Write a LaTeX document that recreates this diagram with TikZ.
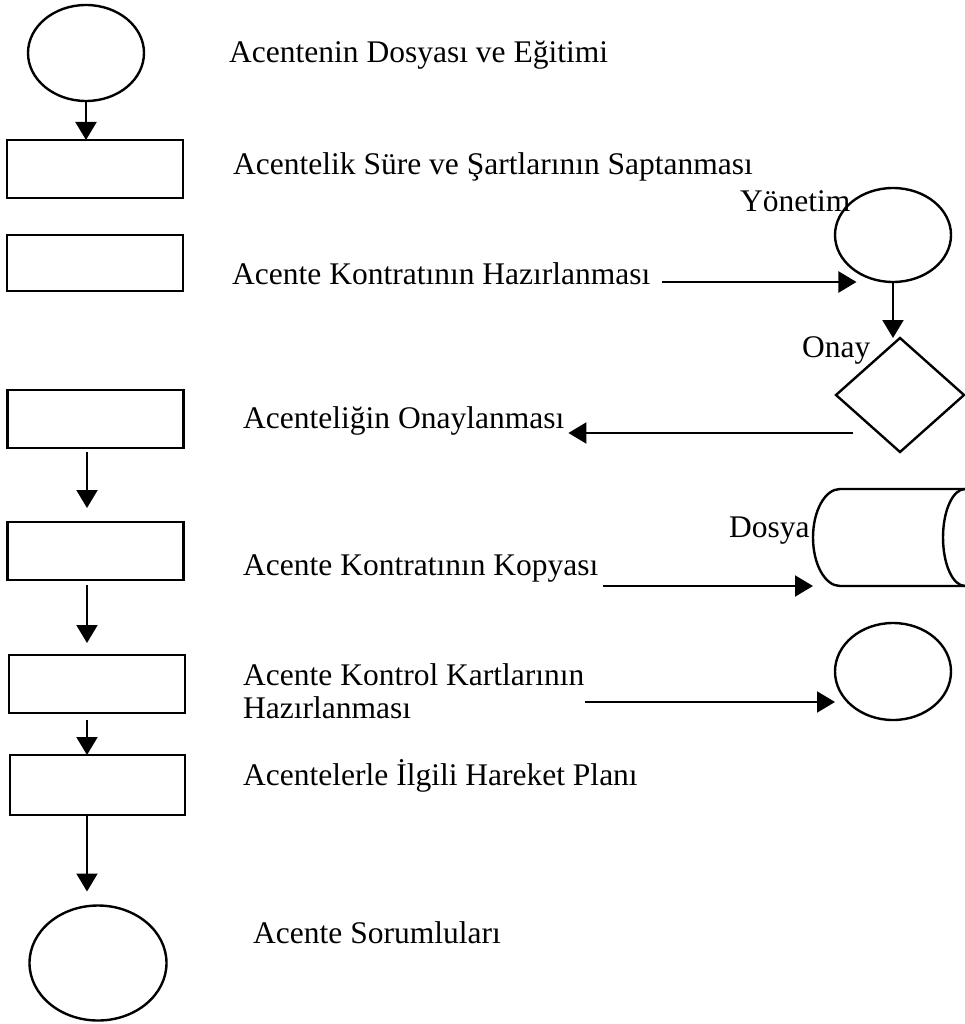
\documentclass[tikz,border=0pt]{standalone}
\usepackage{fontspec}
\setmainfont{Liberation Serif}
\usetikzlibrary{arrows.meta,shapes.geometric,calc}
\begin{document}
\begin{tikzpicture}[x=1pt,y=-1pt,
  shp/.style={draw, line width=2.4pt, inner sep=0pt, outer sep=0pt},
  box/.style={shp, rectangle, minimum width=176pt, minimum height=58pt},
  oval/.style={shp, ellipse},
  lbl/.style={anchor=base west, inner sep=0pt, font=\fontsize{31.5}{36}\selectfont},
  arr/.style={line width=2.2pt, -{Triangle[length=18pt,width=21pt]}}]

% page
\fill[white] (0,0) rectangle (965,1024);
\useasboundingbox (0,0) rectangle (965,1024);

% left column of steps
\node[oval, minimum width=116pt, minimum height=96pt] (e1) at (86,53) {};
\node[box] (b1) at (95,169) {};
\node[box, minimum height=56pt] (b2) at (95,263) {};
\node[box] (b3) at (95.5,419) {};
\node[box] (b4) at (95.5,551) {};
\node[box] (b5) at (97,684) {};
\node[box, minimum width=175pt, minimum height=60pt] (b6) at (97.5,785) {};
\node[oval, minimum width=137pt, minimum height=115pt] (e2) at (98,963) {};

% right-hand symbols
\node[oval, minimum width=116pt, minimum height=94pt] (yon) at (893,235) {};
\node[shp, diamond, minimum width=128pt, minimum height=114pt] (dia) at (900,395) {};
\node[inner sep=0pt, outer sep=0pt, minimum width=152pt, minimum height=97pt] (cyl) at (889,537.5) {};
\draw[line width=2.4pt] (965,489) -- (840,489)
  .. controls (825.1,489) and (813,510.7) .. (813,537.5)
  .. controls (813,564.3) and (825.1,586) .. (840,586) -- (965,586);
\draw[line width=2.4pt] (965,489)
  .. controls (952.8,489) and (943,510.7) .. (943,537.5)
  .. controls (943,564.3) and (952.8,586) .. (965,586);
\node[oval, minimum width=116pt, minimum height=97pt] (circ) at (893,671.5) {};

% texts
\node[lbl] (t1) at (229,63) {Acentenin Dosyası ve Eğitimi};
\node[lbl] (t2) at (233,175) {Acentelik Süre ve Şartlarının Saptanması};
\node[lbl] (t3) at (232,284) {Acente Kontratının Hazırlanması};
\node[lbl] (t4) at (243,428) {Acenteliğin Onaylanması};
\node[lbl] (t5) at (243,575) {Acente Kontratının Kopyası};
\node[lbl] (t6) at (243,685) {Acente Kontrol Kartlarının};
\node[lbl] (t6b) at (243,718) {Hazırlanması};
\node[lbl] (t7) at (243,785) {Acentelerle İlgili Hareket Planı};
\node[lbl] (t8) at (253,943) {Acente Sorumluları};
\node[lbl] (lyon) at (740,212) {Yönetim};
\node[lbl] (lona) at (802,357) {Onay};
\node[lbl] (ldos) at (729,537) {Dosya};

% vertical flow
\coordinate (col) at (87,0);
\draw[arr] (e1.south) -- (e1.south |- b1.north);
\draw[arr, shorten <=4pt, shorten >=14pt] (b3.south -| col) -- (b4.north -| col);
\draw[arr, shorten <=5pt, shorten >=12pt] (b4.south -| col) -- (b5.north -| col);
\draw[arr, shorten <=7pt] (b5.south -| col) -- (b6.north -| col);
\draw[arr, shorten >=14pt] (b6.south -| col) -- (e2.north -| col);

% links to the right-hand symbols
\coordinate (s3) at (662,282);
\draw[arr] (s3) -- (s3 -| yon.225);
\draw[arr] (yon.south) -- (yon.south |- dia.north);
\coordinate (d4) at (853,433);
\draw[arr] (d4) -- ($(d4 -| t4.east)+(4,0)$);
\coordinate (s5) at (603,586);
\draw[arr] (s5) -- (s5 -| cyl.west);
\coordinate (s6) at (585,702);
\draw[arr] (s6) -- (s6 -| circ.west);
\end{tikzpicture}
\end{document}
